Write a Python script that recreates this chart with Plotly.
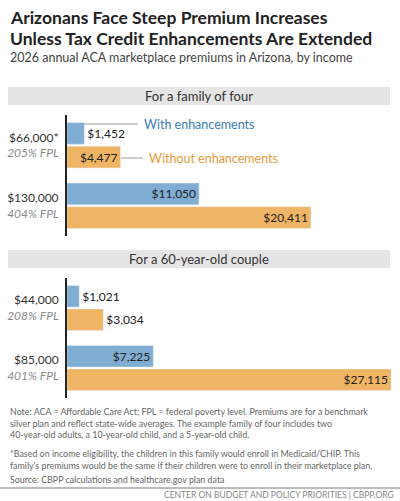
import plotly.graph_objects as go
from plotly.subplots import make_subplots

# data
fam_incomes = ["$66,000*", "$130,000"]
fam_fpl = ["205% FPL", "404% FPL"]
fam_with = [1452, 11050]
fam_without = [4477, 20411]

cpl_incomes = ["$44,000", "$85,000"]
cpl_fpl = ["208% FPL", "401% FPL"]
cpl_with = [1021, 7225]
cpl_without = [3034, 27115]

BLUE = "#80add3"
ORANGE = "#f0b465"
FONT = "Lato"

def cats(inc, fpl):
    return [f"{a}<br><span style='color:#8a8a8a'><i>{b}</i></span>" for a, b in zip(inc, fpl)]

def money(v):
    return [f"${x:,}" for x in v]

def pos(v, cut=4000):
    return ["inside" if x > cut else "outside" for x in v]

fig = make_subplots(rows=2, cols=1)

for row, inc, fpl, w, wo in [(1, fam_incomes, fam_fpl, fam_with, fam_without),
                             (2, cpl_incomes, cpl_fpl, cpl_with, cpl_without)]:
    y = cats(inc, fpl)
    fig.add_trace(go.Bar(y=y, x=w, orientation="h", marker_color=BLUE,
                         text=money(w), textposition=pos(w), insidetextanchor="end",
                         textfont=dict(color="#222", size=12), cliponaxis=False), row=row, col=1)
    fig.add_trace(go.Bar(y=y, x=wo, orientation="h", marker_color=ORANGE,
                         text=money(wo), textposition=pos(wo), insidetextanchor="end",
                         textfont=dict(color="#222", size=12), cliponaxis=False), row=row, col=1)

xmax = max(cpl_without) * 1.0
for ax in ["xaxis", "xaxis2"]:
    fig.layout[ax].update(range=[0, xmax], domain=[67/400, 391/400], visible=False)
fig.layout.yaxis.update(domain=[(501-236)/501, (501-115)/501])
fig.layout.yaxis2.update(domain=[(501-398)/501, (501-278)/501])
for ax in ["yaxis", "yaxis2"]:
    fig.layout[ax].update(autorange="reversed", showline=True, linecolor="#222", linewidth=2,
                          ticks="", tickfont=dict(size=12, color="#333"), ticklabelstandoff=4)

def pyf(px):
    return 1 - px / 501

# section header bands
for top, label in [(87, "For a family of four"), (250, "For a 60-year-old couple")]:
    fig.add_shape(type="rect", xref="paper", yref="paper", x0=8/400, x1=390/400,
                  y0=pyf(top + 18), y1=pyf(top), fillcolor="#e5e5e5", line_width=0)
    fig.add_annotation(xref="paper", yref="paper", x=199/400, y=pyf(top + 9), yanchor="middle",
                       text=label, showarrow=False, font=dict(size=13, color="#333"))

# legend call-outs
fig.add_shape(type="line", xref="paper", yref="paper", x0=84/400, x1=138/400,
              y0=pyf(124), y1=pyf(124), line=dict(color="#999", width=1))
fig.add_annotation(xref="paper", yref="paper", x=142/400, y=pyf(124), xanchor="left", yanchor="middle",
                   text="With enhancements", showarrow=False, font=dict(size=12.5, color="#3b7bb5"))
fig.add_shape(type="line", xref="paper", yref="paper", x0=121/400, x1=143/400,
              y0=pyf(158), y1=pyf(158), line=dict(color="#999", width=1))
fig.add_annotation(xref="paper", yref="paper", x=147/400, y=pyf(158), xanchor="left", yanchor="middle",
                   text="Without enhancements", showarrow=False, font=dict(size=12.5, color="#e69a3c"))

# titles
for ypx, line in [(18, "Arizonans Face Steep Premium Increases"),
                  (38, "Unless Tax Credit Enhancements Are Extended")]:
    fig.add_annotation(xref="paper", yref="paper", x=8/400, y=pyf(ypx), xanchor="left", yanchor="middle",
                       showarrow=False, text=f"<b>{line}</b>", font=dict(size=17.5, color="#222"))
fig.add_annotation(xref="paper", yref="paper", x=8/400, y=pyf(58), xanchor="left", yanchor="middle",
                   showarrow=False, text="2026 annual ACA marketplace premiums in Arizona, by income",
                   font=dict(size=12.5, color="#444"))

notes = [
    (404, "Note: ACA = Affordable Care Act; FPL = federal poverty level. Premiums are for a benchmark<br>"
          "silver plan and reflect state-wide averages. The example family of four includes two<br>"
          "40-year-old adults, a 10-year-old child, and a 5-year-old child."),
    (446, "*Based on income eligibility, the children in this family would enroll in Medicaid/CHIP. This<br>"
          "family's premiums would be the same if their children were to enroll in their marketplace plan."),
    (472, "Source: CBPP calculations and healthcare.gov plan data"),
]
for top, t in notes:
    fig.add_annotation(xref="paper", yref="paper", x=8/400, y=pyf(top), xanchor="left", yanchor="top",
                       align="left", showarrow=False, text=t,
                       font=dict(size=8.9, color="#666"))

fig.add_shape(type="line", xref="paper", yref="paper", x0=0, x1=1, y0=pyf(488), y1=pyf(488),
              line=dict(color="#777", width=1))
fig.add_annotation(xref="paper", yref="paper", x=396/400, y=pyf(495), xanchor="right", yanchor="middle",
                   showarrow=False, text="CENTER ON BUDGET AND POLICY PRIORITIES | CBPP.ORG",
                   font=dict(size=8.5, color="#888"))

fig.update_layout(width=400, height=501, margin=dict(l=0, r=0, t=0, b=0),
                  barmode="group", bargap=0.22, bargroupgap=0.08, showlegend=False,
                  plot_bgcolor="white", paper_bgcolor="white",
                  font=dict(family=FONT, color="#333"))

fig.write_html("out.html", config={"displayModeBar": False},
               post_script="document.body.style.margin='0';")
